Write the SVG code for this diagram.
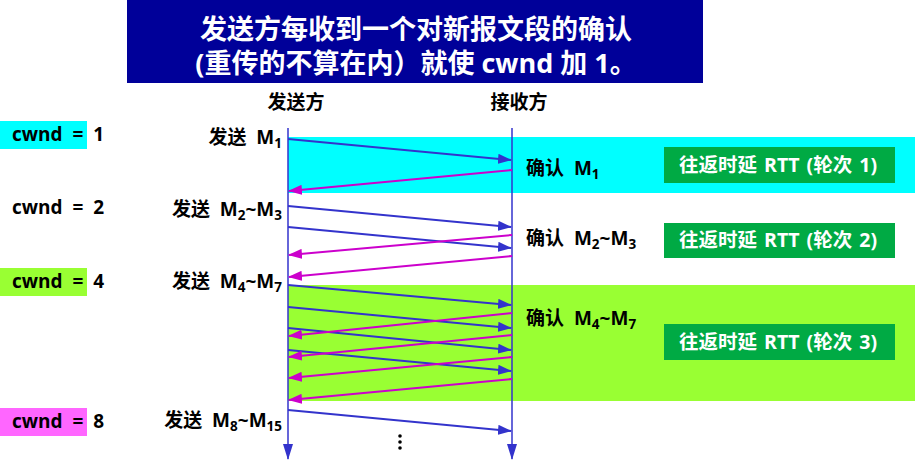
<svg xmlns="http://www.w3.org/2000/svg" width="915" height="465" viewBox="0 0 915 465">
<style>
text{font-family:"Open Sans","Noto Sans CJK SC",sans-serif;font-weight:bold;fill:#000}
.t{font-size:19px}
.l{word-spacing:5px}
.r{font-size:19.5px;word-spacing:2px}
.s{font-size:13.5px}
.w{fill:#fff}
.title{font-size:27px;fill:#fff}
.snd{stroke:#3333CC;stroke-width:2;fill:none;marker-end:url(#ab)}
.ack{stroke:#CC00CC;stroke-width:2;fill:none;marker-end:url(#am)}
.life{stroke:#3333CC;stroke-width:1.5;marker-end:url(#al)}
</style>
<defs>
<marker id="ab" viewBox="0 0 14 10" refX="13" refY="5" markerWidth="14" markerHeight="10" markerUnits="userSpaceOnUse" orient="auto"><path d="M0,0 L14,5 L0,10 Z" fill="#3333CC"/></marker>
<marker id="am" viewBox="0 0 14 10" refX="13" refY="5" markerWidth="14" markerHeight="10" markerUnits="userSpaceOnUse" orient="auto"><path d="M0,0 L14,5 L0,10 Z" fill="#CC00CC"/></marker>
<marker id="al" viewBox="0 0 16 10" refX="15" refY="5" markerWidth="16" markerHeight="10" markerUnits="userSpaceOnUse" orient="auto"><path d="M0,0 L16,5 L0,10 Z" fill="#3333CC"/></marker>
</defs>
<rect width="915" height="465" fill="#fff"/>
<g id="title">
<rect x="127" y="0" width="576" height="83" fill="#000099"/>
<text class="title" x="416" y="39" text-anchor="middle">发送方每收到一个对新报文段的确认</text>
<text class="title" x="416" y="73" text-anchor="middle">(重传的不算在内）就使 cwnd 加 1。</text>
</g>
<g id="bands">
<rect x="288" y="137" width="627" height="56" fill="#00FFFF"/>
<rect x="288" y="285" width="627" height="116" fill="#99FF33"/>
</g>
<g id="cwnd">
<rect x="0" y="121" width="87" height="28" fill="#00FFFF"/>
<text class="t" x="12" y="141" xml:space="preserve">cwnd  =  1</text>
<text class="t" x="12" y="214" xml:space="preserve">cwnd  =  2</text>
<rect x="0" y="268" width="87" height="28" fill="#99FF33"/>
<text class="t" x="12" y="288" xml:space="preserve">cwnd  =  4</text>
<rect x="0" y="408" width="87" height="28" fill="#FF66FF"/>
<text class="t" x="12" y="428" xml:space="preserve">cwnd  =  8</text>
</g>
<g id="heads">
<text class="t" x="296" y="109" text-anchor="middle">发送方</text>
<text class="t" x="519" y="109" text-anchor="middle">接收方</text>
</g>
<g id="sendlabels">
<text class="t l" x="282" y="144" text-anchor="end">发送 M<tspan class="s" dy="4">1</tspan></text>
<text class="t l" x="282" y="216" text-anchor="end">发送 M<tspan class="s" dy="4">2</tspan><tspan dy="-4">~M</tspan><tspan class="s" dy="4">3</tspan></text>
<text class="t l" x="282" y="288" text-anchor="end">发送 M<tspan class="s" dy="4">4</tspan><tspan dy="-4">~M</tspan><tspan class="s" dy="4">7</tspan></text>
<text class="t l" x="282" y="427" text-anchor="end">发送 M<tspan class="s" dy="4">8</tspan><tspan dy="-4">~M</tspan><tspan class="s" dy="4">15</tspan></text>
</g>
<g id="acklabels">
<text class="t l" x="526" y="175">确认 M<tspan class="s" dy="4">1</tspan></text>
<text class="t l" x="526" y="245">确认 M<tspan class="s" dy="4">2</tspan><tspan dy="-4">~M</tspan><tspan class="s" dy="4">3</tspan></text>
<text class="t l" x="526" y="325">确认 M<tspan class="s" dy="4">4</tspan><tspan dy="-4">~M</tspan><tspan class="s" dy="4">7</tspan></text>
</g>
<g id="rtt1"><rect x="664" y="147" width="231" height="36" fill="#00AA44"/><text class="r w" x="778" y="172" text-anchor="middle">往返时延 RTT (轮次 1)</text></g>
<g id="rtt2"><rect x="664" y="223" width="231" height="35" fill="#00AA44"/><text class="r w" x="778" y="247" text-anchor="middle">往返时延 RTT (轮次 2)</text></g>
<g id="rtt3"><rect x="664" y="324" width="231" height="36" fill="#00AA44"/><text class="r w" x="778" y="349" text-anchor="middle">往返时延 RTT (轮次 3)</text></g>
<g id="connectors">
<line class="life" x1="288" y1="128" x2="288" y2="459"/>
<line class="life" x1="512" y1="128" x2="512" y2="459"/>
<line class="snd" x1="288" y1="139" x2="511" y2="160"/>
<line class="ack" x1="512" y1="170" x2="289" y2="191"/>
<line class="snd" x1="288" y1="206" x2="511" y2="227"/>
<line class="snd" x1="288" y1="227" x2="511" y2="248"/>
<line class="ack" x1="512" y1="235" x2="289" y2="255"/>
<line class="ack" x1="512" y1="256" x2="289" y2="277"/>
<line class="snd" x1="288" y1="285" x2="511" y2="305"/>
<line class="snd" x1="288" y1="307" x2="511" y2="328"/>
<line class="snd" x1="288" y1="328" x2="511" y2="350"/>
<line class="snd" x1="288" y1="350" x2="511" y2="371"/>
<line class="ack" x1="512" y1="313" x2="289" y2="336"/>
<line class="ack" x1="512" y1="335" x2="289" y2="357"/>
<line class="ack" x1="512" y1="357" x2="289" y2="378"/>
<line class="ack" x1="512" y1="379" x2="289" y2="400"/>
<line class="snd" x1="288" y1="410" x2="511" y2="431"/>
</g>
<g id="dots" fill="#000">
<circle cx="400" cy="436" r="1.8"/><circle cx="400" cy="442" r="1.8"/><circle cx="400" cy="448" r="1.8"/>
</g>
</svg>
